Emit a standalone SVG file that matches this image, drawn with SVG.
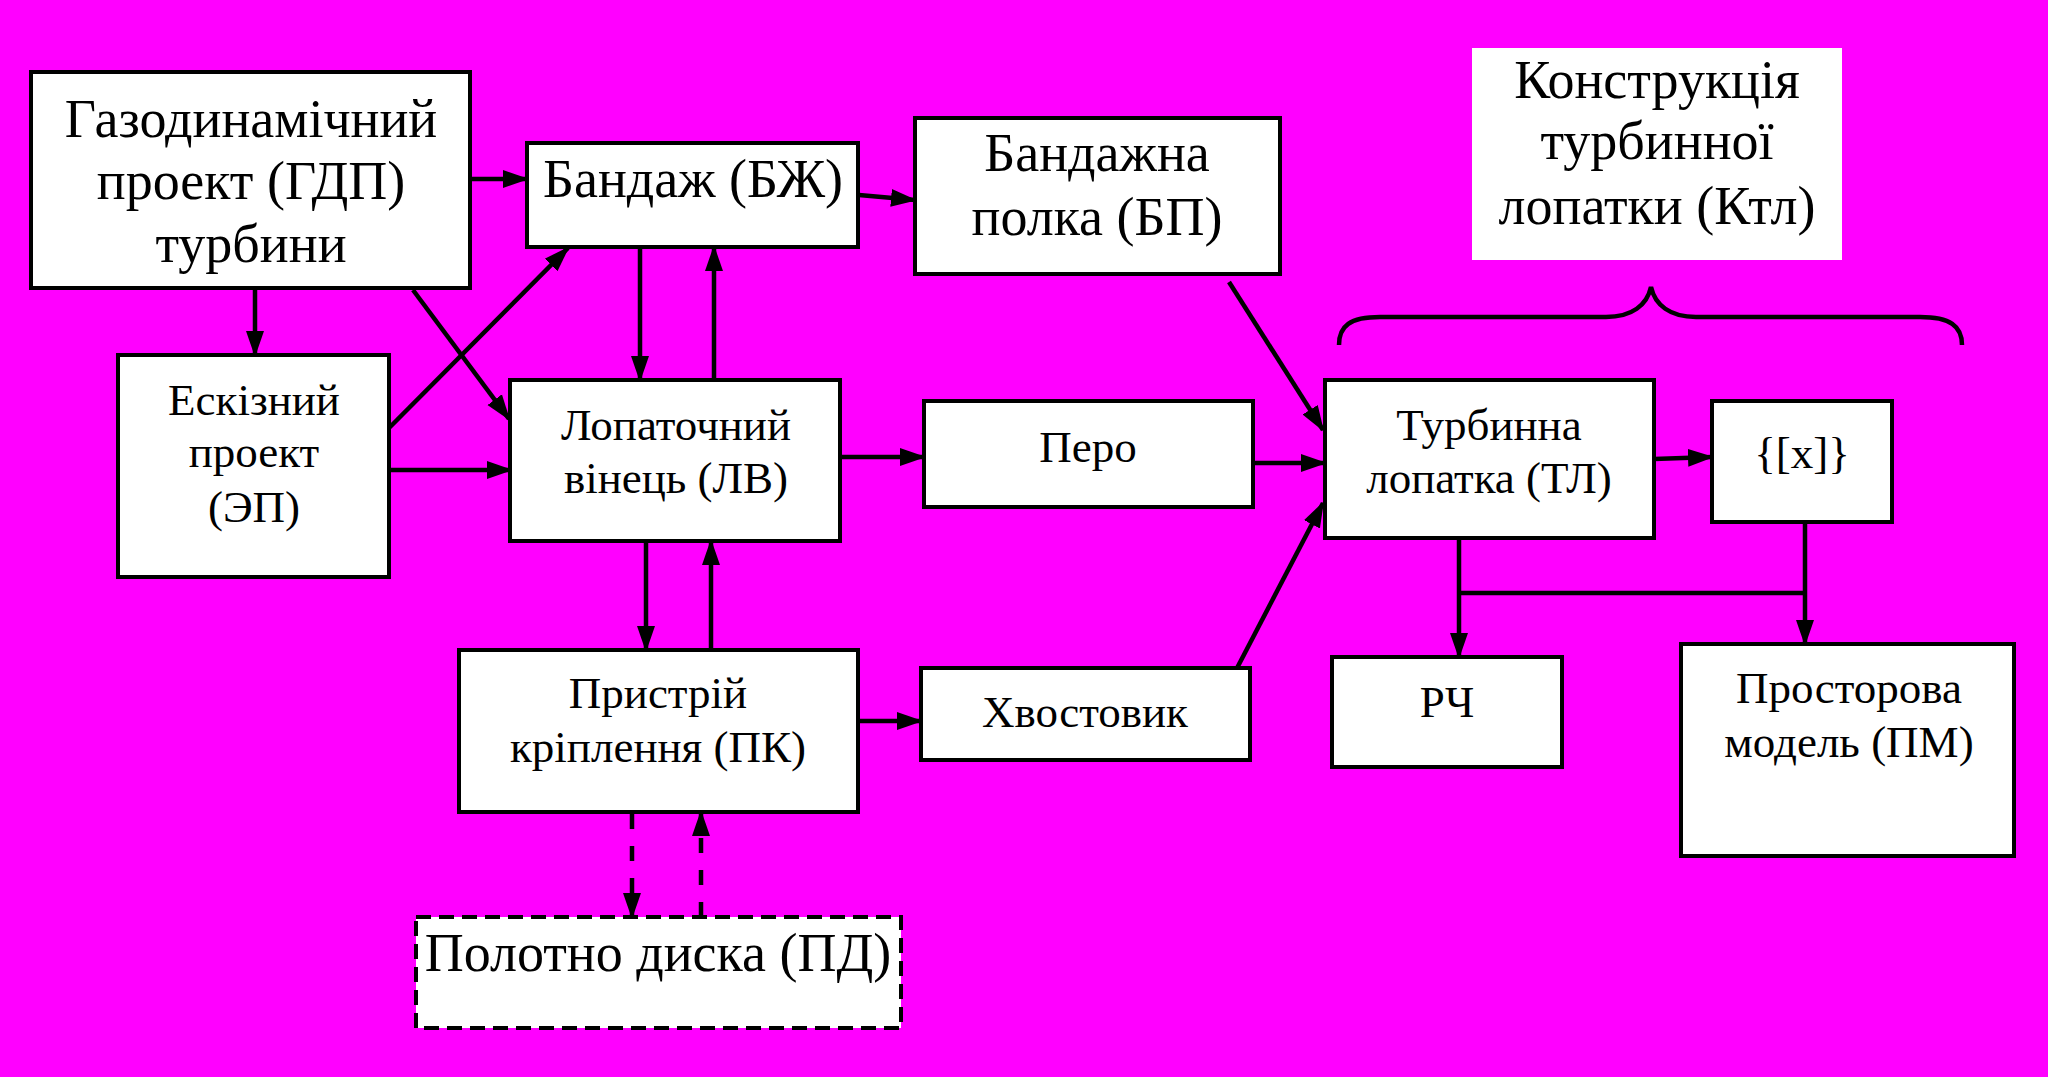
<svg xmlns="http://www.w3.org/2000/svg" width="2048" height="1077" viewBox="0 0 2048 1077">
<defs>
<marker id="ah" markerUnits="userSpaceOnUse" markerWidth="30" markerHeight="22" refX="24" refY="10" orient="auto"><path d="M0,1 L26,10 L0,19 Z" fill="#000"/></marker>
</defs>
<style>
.box{fill:#fff;stroke:#000;stroke-width:4}
.dbox{fill:#fff;stroke:#000;stroke-width:4;stroke-dasharray:15 8}
.t{font-family:"Liberation Serif","Times New Roman",serif;fill:#000;text-anchor:middle}
.L{font-size:54px}
.S{font-size:45px}
.c{stroke:#000;stroke-width:4.5;fill:none}
.a{marker-end:url(#ah)}
.d{stroke-dasharray:15 17}
</style>
<rect width="2048" height="1077" fill="#FF00FF"/>

<g id="connectors">
<line class="c a" x1="470" y1="179" x2="527" y2="179"/>
<line class="c a" x1="255" y1="288" x2="255" y2="355"/>
<line class="c a" x1="413" y1="290" x2="509" y2="419"/>
<line class="c a" x1="389" y1="428" x2="568" y2="248"/>
<line class="c a" x1="389" y1="470" x2="511" y2="470"/>
<line class="c a" x1="859" y1="195" x2="915" y2="200"/>
<line class="c a" x1="640" y1="247" x2="640" y2="380"/>
<line class="c a" x1="714" y1="380" x2="714" y2="247"/>
<line class="c a" x1="840" y1="457" x2="924" y2="457"/>
<line class="c a" x1="646" y1="541" x2="646" y2="650"/>
<line class="c a" x1="711" y1="650" x2="711" y2="541"/>
<line class="c a" x1="858" y1="721" x2="921" y2="721"/>
<line class="c a d" x1="632" y1="814" x2="632" y2="917"/>
<line class="c a d" x1="701" y1="917" x2="701" y2="812"/>
<line class="c a" x1="1229" y1="282" x2="1323" y2="430"/>
<line class="c a" x1="1253" y1="463" x2="1325" y2="463"/>
<line class="c a" x1="1236" y1="670" x2="1323" y2="503"/>
<line class="c a" x1="1654" y1="459" x2="1712" y2="457"/>
<line class="c a" x1="1459" y1="538" x2="1459" y2="657"/>
<line class="c" x1="1459" y1="593" x2="1805" y2="593"/>
<line class="c a" x1="1805" y1="522" x2="1805" y2="644"/>
<path class="c" d="M1339,345 C1339,326 1350,317 1380,317 L1606,317 C1632,317 1647,305 1651,287 C1655,305 1670,317 1696,317 L1920,317 C1950,317 1962,326 1962,345"/>
</g>

<g id="gdp"><rect class="box" x="31" y="72" width="439" height="216"/>
<text class="t L" x="251" y="137">Газодинамічний</text>
<text class="t L" x="251" y="199">проект (ГДП)</text>
<text class="t L" x="251" y="262">турбини</text></g>

<g id="bzh"><rect class="box" x="527" y="143" width="331" height="104"/>
<text class="t L" x="693" y="197">Бандаж (БЖ)</text></g>

<g id="bp"><rect class="box" x="915" y="118" width="365" height="156"/>
<text class="t L" x="1097" y="171">Бандажна</text>
<text class="t L" x="1097" y="235">полка (БП)</text></g>

<g id="ktl"><rect x="1472" y="48" width="370" height="212" fill="#fff"/>
<text class="t L" x="1657" y="98">Конструкція</text>
<text class="t L" x="1657" y="159">турбинної</text>
<text class="t L" x="1657" y="224">лопатки (Ктл)</text></g>

<g id="ep"><rect class="box" x="118" y="355" width="271" height="222"/>
<text class="t S" x="254" y="415">Ескізний</text>
<text class="t S" x="254" y="467">проект</text>
<text class="t S" x="254" y="522">(ЭП)</text></g>

<g id="lv"><rect class="box" x="510" y="380" width="330" height="161"/>
<text class="t S" x="676" y="440">Лопаточний</text>
<text class="t S" x="676" y="493">вінець (ЛВ)</text></g>

<g id="pero"><rect class="box" x="924" y="401" width="329" height="106"/>
<text class="t S" x="1088" y="462">Перо</text></g>

<g id="pk"><rect class="box" x="459" y="650" width="399" height="162"/>
<text class="t S" x="658" y="708">Пристрій</text>
<text class="t S" x="658" y="762">кріплення (ПК)</text></g>

<g id="hv"><rect class="box" x="921" y="668" width="329" height="92"/>
<text class="t S" x="1085" y="727">Хвостовик</text></g>

<g id="pd"><rect class="dbox" x="416" y="917" width="485" height="111"/>
<text class="t L" x="658" y="971">Полотно диска (ПД)</text></g>

<g id="tl"><rect class="box" x="1325" y="380" width="329" height="158"/>
<text class="t S" x="1489" y="440">Турбинна</text>
<text class="t S" x="1489" y="493">лопатка (ТЛ)</text></g>

<g id="x"><rect class="box" x="1712" y="401" width="180" height="121"/>
<text class="t S" x="1802" y="468">{[x]}</text></g>

<g id="rch"><rect class="box" x="1332" y="657" width="230" height="110"/>
<text class="t S" x="1447" y="717">РЧ</text></g>

<g id="pm"><rect class="box" x="1681" y="644" width="333" height="212"/>
<text class="t S" x="1849" y="703">Просторова</text>
<text class="t S" x="1849" y="757">модель (ПМ)</text></g>
</svg>
